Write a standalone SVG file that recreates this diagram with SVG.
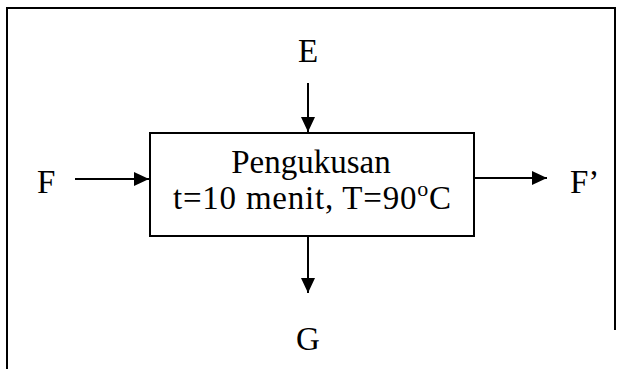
<svg xmlns="http://www.w3.org/2000/svg" width="622" height="369" viewBox="0 0 622 369">
<defs>
<style>
.t{font-family:"Liberation Serif","Times New Roman",serif;font-size:33px;fill:#000}
.c{stroke:#000;stroke-width:2;fill:none}
.f{stroke:#000;stroke-width:2;fill:none}
</style>
<marker id="ah" markerWidth="15" markerHeight="14" refX="15" refY="7" orient="auto" markerUnits="userSpaceOnUse">
<path d="M0,0 L15,7 L0,14 Z" fill="#000"/>
</marker>
</defs>
<rect width="622" height="369" fill="#fff"/>
<g id="frame">
<path class="f" d="M7,369 V8 H615 V330"/>
</g>
<g id="process">
<rect x="150" y="133" width="324" height="103" fill="#fff" stroke="#000" stroke-width="2"/>
<text class="t" x="311" y="173" text-anchor="middle">Pengukusan</text>
<text class="t" x="173" y="209" textLength="278" lengthAdjust="spacing">t=10 menit, T=90<tspan font-size="22" dy="-13">o</tspan><tspan dy="13">C</tspan></text>
</g>
<g id="E"><text class="t" x="308" y="62" text-anchor="middle">E</text></g>
<g id="F"><text class="t" x="37" y="193">F</text></g>
<g id="Fp"><text class="t" x="570" y="193">F’</text></g>
<g id="G"><text class="t" x="308" y="350" text-anchor="middle">G</text></g>
<g id="connectors">
<line class="c" x1="308" y1="83" x2="308" y2="132" marker-end="url(#ah)"/>
<line class="c" x1="75" y1="179" x2="149" y2="179" marker-end="url(#ah)"/>
<line class="c" x1="475" y1="178" x2="547" y2="178" marker-end="url(#ah)"/>
<line class="c" x1="308" y1="237" x2="308" y2="293" marker-end="url(#ah)"/>
</g>
</svg>
